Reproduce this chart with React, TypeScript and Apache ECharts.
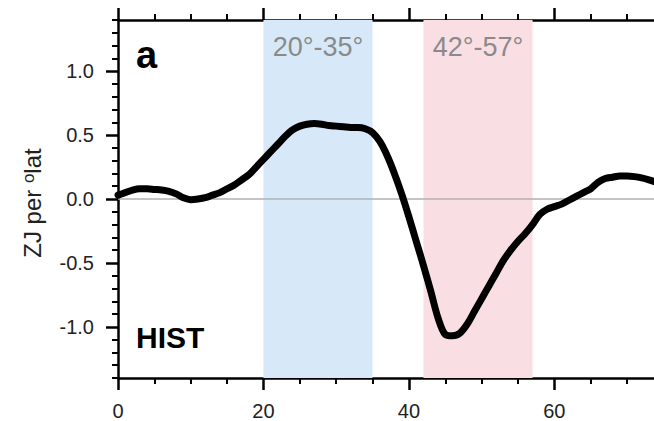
import React, { useEffect, useRef } from "react";
import * as echarts from "echarts";

const latitudes = [
  0, 1, 2, 3, 4, 5, 6, 7, 8, 9, 10, 11, 12, 13, 14, 15, 16, 17, 18, 19,
  20, 21, 22, 23, 24, 25, 26, 27, 28, 29, 30, 31, 32, 33, 34, 35, 36, 37, 38, 39,
  40, 41, 42, 43, 44, 45, 46, 47, 48, 49, 50, 51, 52, 53, 54, 55, 56, 57, 58, 59,
  60, 61, 62, 63, 64, 65, 66, 67, 68, 69, 70, 71, 72, 73, 74,
];
const histValues = [
  0.03, 0.05, 0.07, 0.08, 0.08, 0.075, 0.07, 0.06, 0.04, 0.01,
  -0.005, 0.0, 0.01, 0.03, 0.05, 0.08, 0.11, 0.15, 0.19, 0.25,
  0.31, 0.37, 0.43, 0.49, 0.54, 0.57, 0.585, 0.59, 0.585, 0.575,
  0.57, 0.565, 0.56, 0.56, 0.55, 0.52, 0.45, 0.34, 0.2, 0.04,
  -0.14, -0.33, -0.52, -0.72, -0.93, -1.06, -1.07, -1.05, -0.98, -0.88,
  -0.78, -0.68, -0.58, -0.48, -0.4, -0.33, -0.27, -0.2, -0.12, -0.08,
  -0.06, -0.04, -0.01, 0.02, 0.05, 0.08, 0.13, 0.16, 0.17, 0.18,
  0.18, 0.175, 0.165, 0.15, 0.13,
];
const bands = [
  { from: 20, to: 35, name: "20°-35°", color: "#d7e9f8" },
  { from: 42, to: 57, name: "42°-57°", color: "#f9dfe4" },
];
const xMajorTicks = [0, 20, 40, 60];
const xMinorTicks = [5, 10, 15, 25, 30, 35, 45, 50, 55, 65, 70];
const yMajorTicks = [-1.0, -0.5, 0.0, 0.5, 1.0];
const yMinorTicks = [
  -1.4, -1.3, -1.2, -1.1, -0.9, -0.8, -0.7, -0.6, -0.4, -0.3, -0.2, -0.1,
  0.1, 0.2, 0.3, 0.4, 0.6, 0.7, 0.8, 0.9, 1.1, 1.2, 1.3, 1.4,
];
const X_MIN = 0;
const X_MAX = 73.7;
const Y_MIN = -1.4;
const Y_MAX = 1.4;

const FONT = "'Liberation Sans', Arial, Helvetica, sans-serif";

export default function App() {
  const ref = useRef<HTMLDivElement>(null);
  useEffect(() => {
    if (!ref.current) return;
    const chart = echarts.init(ref.current, null, { renderer: "svg" });
    const lineStyle = { color: "#000", width: 2.5 };
    const mkX = (position: string, major: boolean, labels: boolean) => ({
      type: "value",
      position,
      min: X_MIN,
      max: X_MAX,
      gridIndex: 0,
      axisLine: { show: major, lineStyle, onZero: false },
      axisTick: {
        show: true,
        customValues: major ? xMajorTicks : xMinorTicks,
        length: major ? 12 : 6,
        lineStyle: { color: "#000", width: major ? 2.5 : 2 },
      },
      axisLabel: {
        show: labels,
        customValues: xMajorTicks,
        fontSize: 20,
        color: "#222",
        fontFamily: FONT,
        margin: 23,
      },
      splitLine: { show: false },
    });
    const mkY = (major: boolean) => ({
      type: "value",
      position: "left",
      min: Y_MIN,
      max: Y_MAX,
      axisLine: { show: major, lineStyle, onZero: false },
      axisTick: {
        show: true,
        customValues: major ? yMajorTicks : yMinorTicks,
        length: major ? 12 : 6,
        lineStyle: { color: "#000", width: major ? 2.5 : 2 },
      },
      axisLabel: {
        show: major,
        customValues: yMajorTicks,
        fontSize: 20,
        color: "#222",
        fontFamily: FONT,
        margin: 24,
        formatter: (v: number) => v.toFixed(1),
      },
      splitLine: { show: false },
    });
    chart.setOption({
      animation: false,
      grid: { left: 118, right: 0, top: 20, bottom: 42, containLabel: false },
      xAxis: [
        mkX("bottom", true, true),
        mkX("bottom", false, false),
        mkX("top", true, false),
        mkX("top", false, false),
      ],
      yAxis: [mkY(true), mkY(false)],
      series: [
        {
          type: "line",
          xAxisIndex: 0,
          yAxisIndex: 0,
          z: 1,
          data: [],
          silent: true,
          markArea: {
            silent: true,
            data: bands.map((b) => [
              {
                xAxis: b.from,
                name: b.name,
                itemStyle: { color: b.color },
                label: {
                  show: true,
                  position: "insideTop",
                  distance: 13,
                  color: "#8a8a8a",
                  fontSize: 27,
                  fontFamily: FONT,
                },
              },
              { xAxis: b.to },
            ]),
          },
          markLine: {
            silent: true,
            symbol: "none",
            label: { show: false },
            lineStyle: { color: "#b0b0b0", width: 1.5, type: "solid" },
            data: [{ yAxis: 0 }],
          },
        },
        {
          type: "line",
          xAxisIndex: 0,
          yAxisIndex: 0,
          z: 5,
          showSymbol: false,
          symbol: "none",
          smooth: 0.3,
          data: latitudes.map((x, i) => [x, histValues[i]]),
          lineStyle: { color: "#000", width: 7, cap: "round", join: "round" },
        },
      ],
      graphic: [
        {
          type: "text",
          x: 136,
          y: 55,
          style: {
            text: "a",
            fontSize: 38,
            fontWeight: "bold",
            fontFamily: FONT,
            fill: "#000",
            verticalAlign: "middle",
          },
        },
        {
          type: "text",
          x: 136,
          y: 337,
          style: {
            text: "HIST",
            fontSize: 30,
            fontWeight: "bold",
            fontFamily: FONT,
            fill: "#000",
            verticalAlign: "middle",
          },
        },
        {
          type: "text",
          x: 32,
          y: 203,
          rotation: Math.PI / 2,
          style: {
            text: "ZJ per {sup|o}lat",
            fontSize: 24,
            fontFamily: FONT,
            fill: "#222",
            align: "center",
            verticalAlign: "middle",
            rich: {
              sup: { fontSize: 17, fontFamily: FONT, fill: "#222", verticalAlign: "top", lineHeight: 24 },
            },
          },
        },
      ],
    });
    return () => chart.dispose();
  }, []);
  return (
    <div
      ref={ref}
      style={{ position: "absolute", left: 0, top: 0, width: 654, height: 421, background: "#fff" }}
    />
  );
}
